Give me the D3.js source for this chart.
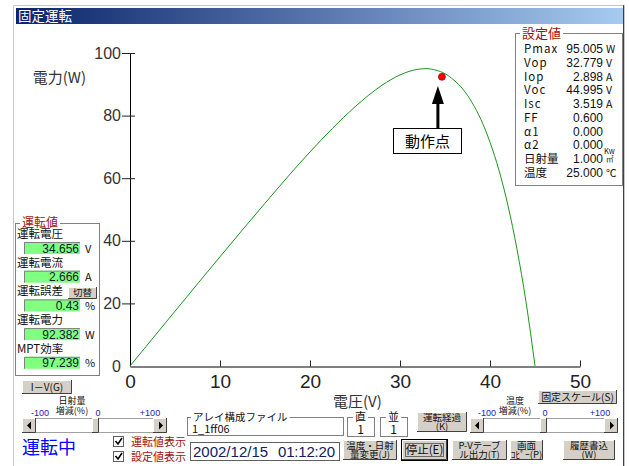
<!DOCTYPE html>
<html>
<head>
<meta charset="utf-8">
<script src="https://cdn.jsdelivr.net/npm/d3@7"></script>
<style>
  body { margin: 0; background: #fff; }
  text { font-family: "Noto Sans CJK JP", "Liberation Sans", sans-serif; }
</style>
</head>
<body>
<svg id="chart"></svg>
<script>
// P-V curve
const voltage = [0, 5, 10, 15, 20, 25, 28, 30, 32, 33, 34, 35, 36, 37, 38, 39, 40, 41, 42, 43, 44, 45];
const power = [0, 17.5, 34.9, 52.0, 68.4, 82.8, 89.7, 93.0, 94.8, 95.0, 94.5, 93.4, 91.3, 88.4, 84.2, 78.7, 71.5, 62.5, 51.2, 37.3, 20.5, 0];
const opVoltage = 34.656;
const opPower = 92.382;
const xTicks = [0, 10, 20, 30, 40, 50];
const yTicks = [0, 20, 40, 60, 80, 100];

// set values panel
const setLabels = ["Pmax", "Vop", "Iop", "Voc", "Isc", "FF", "α1", "α2", "日射量", "温度"];
const setValues = ["95.005", "32.779", "2.898", "44.995", "3.519", "0.600", "0.000", "0.000", "1.000", "25.000"];
const setUnits = ["W", "V", "A", "V", "A", "", "", "", "", "℃"];

// running values panel
const runLabels = ["運転電圧", "運転電流", "運転誤差", "運転電力", "MPT効率"];
const runValues = ["34.656", "2.666", "0.43", "92.382", "97.239"];
const runUnits = ["V", "A", "%", "W", "%"];

const width = 629, height = 466;
const svg = d3.select("#chart").attr("width", width).attr("height", height);

// window frame
const defs = svg.append("defs");
const grad = defs.append("linearGradient").attr("id", "tbar");
grad.append("stop").attr("offset", "0%").attr("stop-color", "#0a246a");
grad.append("stop").attr("offset", "100%").attr("stop-color", "#a6caf0");

svg.append("rect").attr("x", 13.5).attr("y", 5.5).attr("width", 611).attr("height", 470)
    .attr("fill", "#fff").attr("stroke", "#c8c8c8");
svg.append("line").attr("x1", 623.5).attr("x2", 623.5).attr("y1", 5).attr("y2", 466)
    .attr("stroke", "#404040");
svg.append("rect").attr("x", 16).attr("y", 8).attr("width", 607).attr("height", 16)
    .attr("fill", "url(#tbar)");
svg.append("text").attr("x", 18).attr("y", 21).attr("fill", "#fff")
    .attr("font-size", 13.5).text("固定運転");

// scales
const xScale = d3.scaleLinear().domain([0, 50]).range([130, 580]);
const yScale = d3.scaleLinear().domain([0, 100]).range([366, 53]);

// y axis
const gy = svg.append("g").attr("transform", "translate(130,0)")
    .call(d3.axisLeft(yScale).tickValues(yTicks).tickSizeInner(8).tickSizeOuter(0).tickPadding(1));
gy.select(".domain").attr("stroke", "#000");
gy.selectAll(".tick line").attr("x2", -8).attr("x1", 5).attr("stroke", "#222");
gy.selectAll(".tick").filter(d => d === 0).select("line").remove();
gy.selectAll(".tick text").attr("font-size", 16).attr("fill", "#333")
    .style("font-family", "'Liberation Sans', Arial, sans-serif");

// x axis
const gx = svg.append("g").attr("transform", "translate(0,366.5)")
    .call(d3.axisBottom(xScale).tickValues(xTicks).tickSizeInner(-6).tickSizeOuter(0).tickPadding(8));
gx.select(".domain").attr("stroke", "#000");
gx.selectAll(".tick line").attr("stroke", "#222");
gx.selectAll(".tick").filter(d => d === 0).select("line").remove();
gx.selectAll(".tick text").attr("font-size", 19).attr("fill", "#222")
    .style("font-family", "'Liberation Sans Narrow', 'Liberation Sans', Arial, sans-serif");

// axis titles
svg.append("text").attr("x", 86).attr("y", 83).attr("text-anchor", "end")
    .attr("font-size", 15).attr("fill", "#333").text("電力(W)");
svg.append("text").attr("x", 333).attr("y", 407).attr("font-size", 15).attr("fill", "#333").text("電圧(V)");

// P-V curve
svg.append("path")
    .datum(voltage.map((v, i) => [v, power[i]]))
    .attr("fill", "none")
    .attr("stroke", "#1a961a")
    .attr("stroke-width", 1)
    .attr("d", d3.line().curve(d3.curveMonotoneX)
        .x(d => xScale(d[0]))
        .y(d => yScale(d[1])));

// operating point
svg.append("circle").attr("cx", xScale(opVoltage)).attr("cy", yScale(opPower)).attr("r", 3.5)
    .attr("fill", "#ff0000").attr("stroke", "#a00000").attr("stroke-width", 0.7);

// arrow and label
const ax = xScale(opVoltage) - 4;
svg.append("line").attr("x1", ax).attr("x2", ax).attr("y1", 128).attr("y2", 100)
    .attr("stroke", "#000").attr("stroke-width", 3);
svg.append("path").attr("d", `M${ax},86 L${ax - 6},104 L${ax + 6},104 Z`).attr("fill", "#000");
svg.append("rect").attr("x", 393.5).attr("y", 128.5).attr("width", 68).attr("height", 25)
    .attr("fill", "#fff").attr("stroke", "#000");
svg.append("text").attr("x", 427.5).attr("y", 147).attr("text-anchor", "middle")
    .attr("font-size", 15).attr("fill", "#000").text("動作点");

// group box helper
function groupBox(x, y, w, h, title, color, size, dx) {
    svg.append("rect").attr("x", x + 0.5).attr("y", y + 0.5).attr("width", w).attr("height", h)
        .attr("fill", "#fff").attr("stroke", "#808080");
    if (!title) return;
    const t = svg.append("text").attr("x", x + (dx || 7)).attr("y", y + size * 0.36)
        .attr("font-size", size).attr("fill", color).text(title);
    const bb = t.node().getBBox();
    svg.insert("rect", () => t.node()).attr("x", bb.x - 2).attr("y", y - 2)
        .attr("width", bb.width + 4).attr("height", 5).attr("fill", "#fff");
}

// set values panel
groupBox(515, 33, 107, 152, "設定値", "#a01010", 13);
const setRow = d3.scaleLinear().domain([0, setLabels.length - 1]).range([53, 177]);
setLabels.forEach((lab, i) => {
    svg.append("text").attr("x", 524).attr("y", setRow(i)).attr("font-size", 11.5)
        .attr("fill", "#111").style("letter-spacing", i < 8 ? "1px" : "0px").text(lab);
    svg.append("text").attr("x", 603).attr("y", setRow(i)).attr("text-anchor", "end")
        .attr("font-size", 12).attr("fill", "#111")
        .style("font-family", "'Liberation Sans Narrow', 'Liberation Sans', sans-serif").text(setValues[i]);
    svg.append("text").attr("x", 606).attr("y", setRow(i)).attr("font-size", 10.5)
        .attr("fill", "#111").text(setUnits[i]);
});
svg.append("text").attr("x", 604).attr("y", 154).attr("font-size", 7.5).attr("fill", "#111").text("Kw");
svg.append("text").attr("x", 606).attr("y", 162).attr("font-size", 7.5).attr("fill", "#111").text("㎡");

// running values panel
groupBox(15, 223, 84, 152, "運転値", "#a01010", 12);
runLabels.forEach((lab, i) => {
    const top = 233 + i * 28.7;
    svg.append("text").attr("x", 17).attr("y", top + 5).attr("font-size", 11.5)
        .attr("fill", "#111").text(lab);
    const fy = top + 9;
    svg.append("rect").attr("x", 24).attr("y", fy).attr("width", 56).attr("height", 12).attr("fill", "#80ff80");
    svg.append("path").attr("d", `M24.5,${fy + 12} V${fy + 0.5} H80`).attr("fill", "none").attr("stroke", "#808080");
    svg.append("text").attr("x", 79).attr("y", fy + 10.5).attr("text-anchor", "end").attr("font-size", 12)
        .attr("fill", "#102030").style("font-family", "'Liberation Sans', sans-serif").text(runValues[i]);
    svg.append("text").attr("x", 85).attr("y", fy + 10.5).attr("font-size", 11)
        .attr("fill", "#111").text(runUnits[i]);
});

// button helper
function button(x, y, w, h, lines, focused, size) {
    const g = svg.append("g");
    g.append("rect").attr("x", x).attr("y", y).attr("width", w).attr("height", h).attr("fill", "#d4d0c8");
    g.append("path").attr("d", `M${x + 0.5},${y + h} V${y + 0.5} H${x + w}`).attr("fill", "none").attr("stroke", "#fff");
    g.append("path").attr("d", `M${x},${y + h - 0.5} H${x + w - 0.5} V${y}`).attr("fill", "none").attr("stroke", "#404040");
    if (focused) {
        g.append("rect").attr("x", x - 0.5).attr("y", y - 0.5).attr("width", w + 1).attr("height", h + 1)
            .attr("fill", "none").attr("stroke", "#000");
        g.append("rect").attr("x", x + 3.5).attr("y", y + 3.5).attr("width", w - 7).attr("height", h - 7)
            .attr("fill", "none").attr("stroke", "#000").attr("stroke-dasharray", "1,1");
    }
    const fs = size || 10;
    // two-line captions: a single text with tspans
    const t = g.append("text").attr("text-anchor", "middle").attr("font-size", fs).attr("fill", "#111");
    lines.forEach((l, i) => {
        t.append("tspan").attr("x", x + w / 2)
            .attr("y", y + h / 2 + fs * 0.36 + (i - (lines.length - 1) / 2) * fs * 1.02)
            .text(l);
    });
}

button(68, 287, 29, 12, ["切替"], false, 9.5);
button(22, 380, 50, 14, ["I－V(G)"], false, 10);
button(538, 390, 79, 14, ["固定スケール(S)"], false, 10);
button(417, 412, 50, 20, ["運転経過", "(K)"], false, 9.5);
button(343, 440, 54, 20, ["温度・日射", "量変更(J)"], false, 9.5);
button(402, 440, 45, 20, ["停止(E)"], true, 11.5);
button(452, 440, 55, 20, ["P-Vテーブ", "ル出力(T)"], false, 9.5);
button(510, 440, 33, 20, ["画面", "ｺﾋﾟｰ(P)"], false, 9.5);
button(563, 440, 52, 20, ["履歴書込", "(W)"], false, 9.5);

// scrollbar helper
function scrollbar(x, y, w, thumb, labelX, caption) {
    svg.append("rect").attr("x", x + 0.5).attr("y", y + 0.5).attr("width", w).attr("height", 14)
        .attr("fill", "#fff").attr("stroke", "#a0a0a0");
    button(x, y, 14, 15, [], false);
    button(x + w - 13, y, 14, 15, [], false);
    svg.append("path").attr("d", `M${x + 5},${y + 7.5} l4,-4 v8 z`).attr("fill", "#000");
    svg.append("path").attr("d", `M${x + w - 3},${y + 7.5} l-4,-4 v8 z`).attr("fill", "#000");
    button(thumb, y, 7, 15, [], false);
    [["-100", labelX[0]], ["0", labelX[1]], ["+100", labelX[2]]].forEach(d => {
        svg.append("text").attr("x", d[1]).attr("y", y - 2).attr("text-anchor", "middle")
            .attr("font-size", 9).attr("fill", "#2020c0")
            .style("font-family", "'Liberation Sans', sans-serif").text(d[0]);
    });
    const cap = svg.append("text").attr("text-anchor", "middle").attr("font-size", 9).attr("fill", "#111");
    cap.append("tspan").attr("x", caption[0]).attr("y", y - 14).text(caption[1]);
    cap.append("tspan").attr("x", caption[0]).attr("y", y - 4).text("増減(%)");
}
scrollbar(22, 418, 144, 92, [40, 98, 150], [72, "日射量"]);
scrollbar(470, 418, 147, 540, [487, 545, 600], [515, "温度"]);

// status text
svg.append("text").attr("x", 22).attr("y", 454).attr("font-size", 18).attr("fill", "#0000ff").text("運転中");

// checkboxes
[["運転値表示", 436], ["設定値表示", 451]].forEach(d => {
    svg.append("rect").attr("x", 113.5).attr("y", d[1] + 0.5).attr("width", 10).attr("height", 10)
        .attr("fill", "#fff").attr("stroke", "#606060");
    svg.append("path").attr("d", `M115.5,${d[1] + 5} l2.5,3 l4,-6`).attr("fill", "none")
        .attr("stroke", "#000").attr("stroke-width", 1.6);
    svg.append("text").attr("x", 131).attr("y", d[1] + 9.5).attr("font-size", 11)
        .attr("fill", "#a01010").text(d[0]);
});

// array file box
groupBox(187, 417, 156, 18, "アレイ構成ファイル", "#111", 10.5, 6);
svg.append("text").attr("x", 192).attr("y", 433).attr("font-size", 11).attr("fill", "#111").text("1_1ff06");

// date field
svg.append("rect").attr("x", 190.5).attr("y", 442.5).attr("width", 149).attr("height", 18)
    .attr("fill", "#fff").attr("stroke", "#606060");
svg.append("text").attr("x", 193).attr("y", 457).attr("font-size", 15).attr("fill", "#102060")
    .style("font-family", "'Liberation Sans Narrow', 'Liberation Sans', sans-serif").text("2002/12/15");
svg.append("text").attr("x", 278).attr("y", 457).attr("font-size", 15).attr("fill", "#102060")
    .attr("textLength", 57)
    .style("font-family", "'Liberation Sans Narrow', 'Liberation Sans', sans-serif").text("01:12:20");

// series / parallel boxes
[["直", 347], ["並", 380]].forEach(d => {
    groupBox(d[1], 417, 27, 19, d[0], "#111", 11, 8);
    svg.append("text").attr("x", d[1] + 13.5).attr("y", 434).attr("text-anchor", "middle")
        .attr("font-size", 12).attr("fill", "#111").text("1");
});
</script>
</body>
</html>
